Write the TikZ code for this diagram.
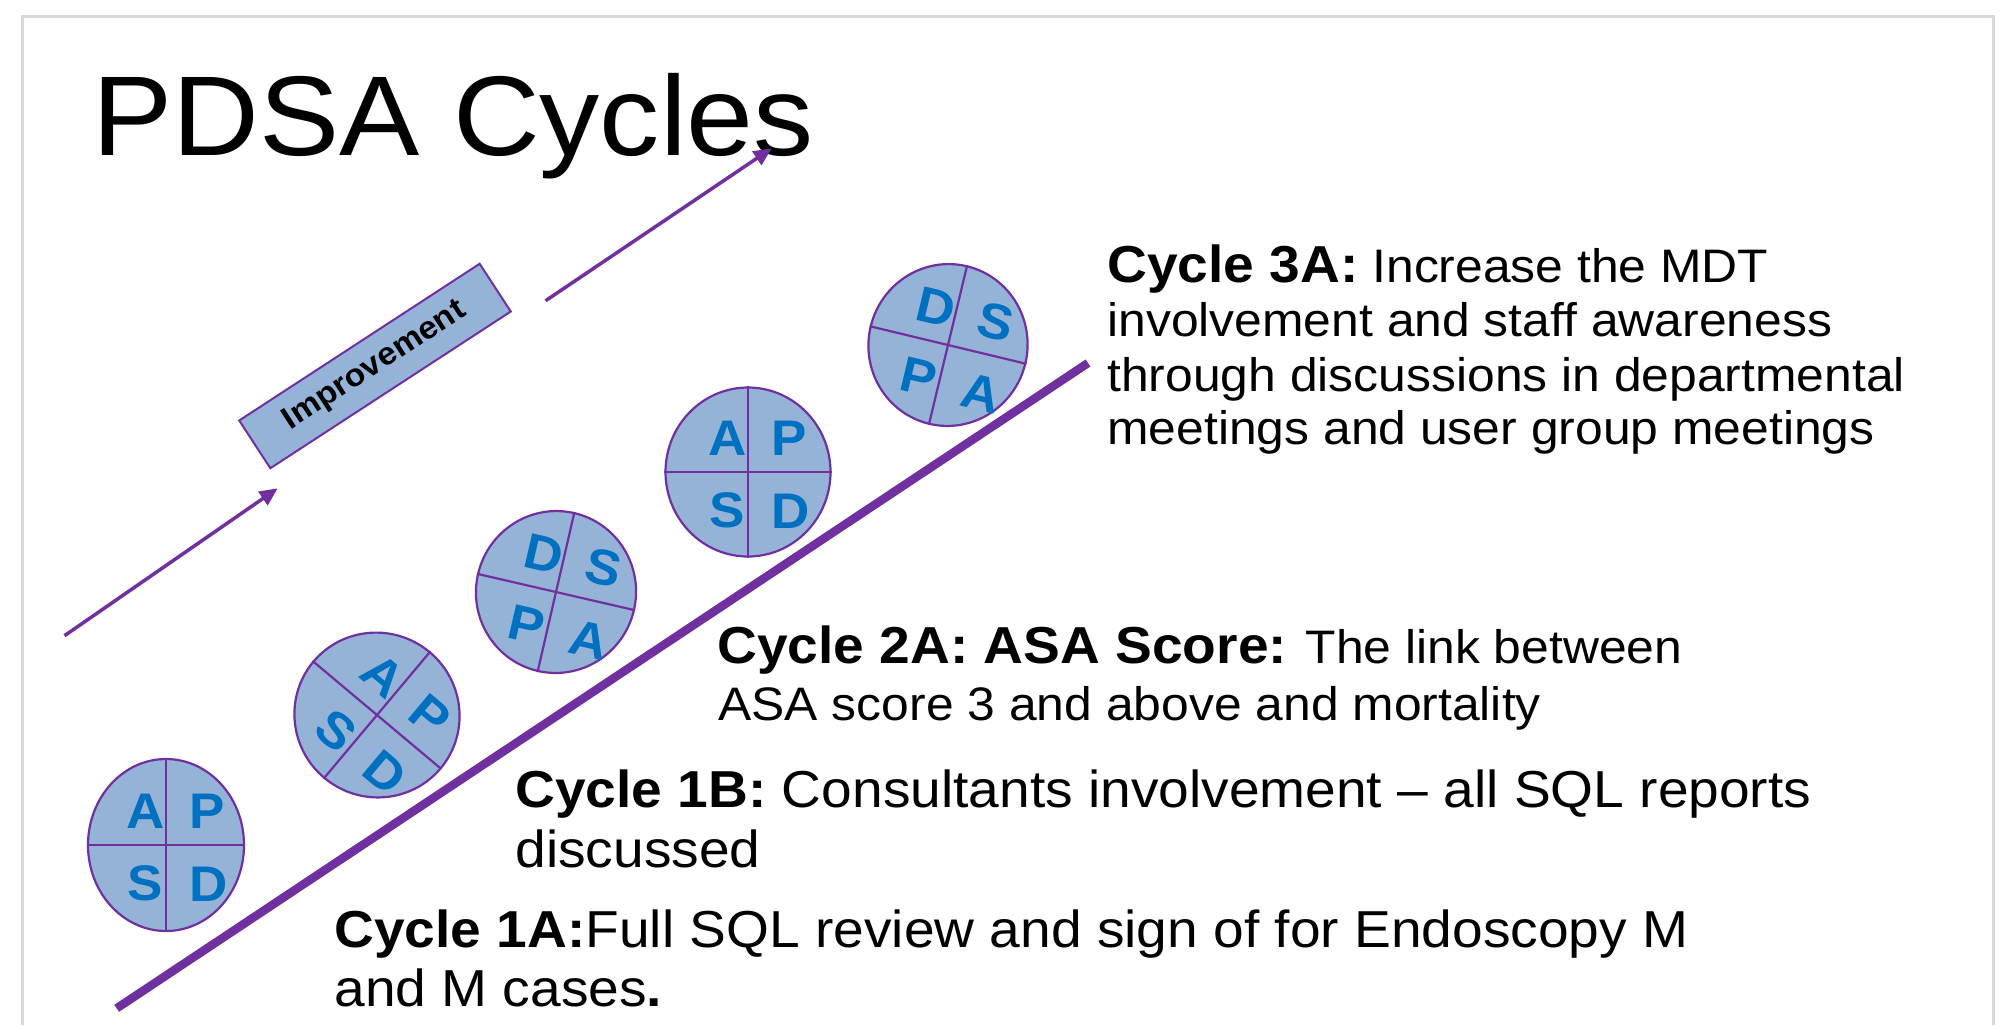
\documentclass[tikz,border=0pt]{standalone}
\usepackage{fontspec}
\setmainfont[FakeStretch=1.06]{Liberation Sans}
\usetikzlibrary{shapes.geometric,arrows.meta}
\definecolor{pur}{HTML}{7030A0}
\definecolor{wblue}{HTML}{95B3D7}
\definecolor{lblue}{HTML}{0070C0}
\definecolor{frm}{HTML}{D9D9D9}
\newcommand\bighead[1]{\textbf{\fontsize{26}{28}\selectfont #1}}
\tikzset{
  wheel/.style={ellipse, draw=pur, fill=wblue, line width=1.1pt, inner sep=0pt},
  divider/.style={draw=pur, line width=1.1pt},
  letter/.style={text=lblue, font=\bfseries\fontsize{25}{25}\selectfont, inner sep=0pt},
  txt/.style={anchor=base west, inner sep=0pt, text=black},
  thinarrow/.style={draw=pur, line width=1.75pt, -{Triangle[length=9pt,width=8pt]}},
  thickline/.style={draw=pur, line width=4.25pt},
  impbox/.style={draw=pur, fill=wblue, line width=1pt, inner sep=0pt,
    font=\bfseries\fontsize{15.85}{18}\selectfont},
}
\newcommand\pdsawheel[9]{%
  \begin{scope}[shift={(#2)}, rotate=#5]
    \node[wheel, minimum width=#3, minimum height=#4, rotate=#5] (#1) at (0,0) {};
    \draw[divider] (#1.north) -- (#1.south);
    \draw[divider] (#1.west) -- (#1.east);
    \node[letter, rotate=#5] (#1tl) at (-20,-34) {#6};
    \node[letter, rotate=#5] (#1tr) at (41,-34) {#7};
    \node[letter, rotate=#5] (#1bl) at (-21,38) {#8};
    \node[letter, rotate=#5] (#1br) at (43,39) {#9};
  \end{scope}}
\begin{document}
\begin{tikzpicture}[x=0.5pt,y=-0.5pt]
  \useasboundingbox (0,0) rectangle (2011,1025);
  \fill[white] (0,0) rectangle (2011,1025);
  % slide frame
  \draw[frm, line width=1.5pt] (22,1025) -- (22,16) -- (1993,16) -- (1993,1025);

  % title
  \node[txt, font=\fontsize{56.7}{60}\selectfont] (title) at (92,155.5) {PDSA Cycles};

  % improvement arrows and box
  \coordinate (a1s) at (64.5,635.7);
  \coordinate (a1e) at (277.7,488.3);
  \coordinate (a2s) at (545.6,300.7);
  \coordinate (a2e) at (771.7,148.3);
  \draw[thinarrow] (a1s) -- (a1e);
  \draw[thinarrow] (a2s) -- (a2e);
  \node[impbox, minimum width=143.5pt, minimum height=28.5pt, rotate=33.1] (imp) at (375,366) {Improvement};

  % main slope line
  \coordinate (l1) at (116.7,1008.3);
  \coordinate (l2) at (1088,363);
  \draw[thickline] (l1) -- (l2);

  % PDSA wheels
  \pdsawheel{w1}{166,845}{78pt}{86pt}{0}{A}{P}{S}{D}
  \pdsawheel{w2}{377,715}{83pt}{82pt}{-40}{A}{P}{S}{D}
  \pdsawheel{w3}{556,592}{80pt}{81pt}{-13}{D}{S}{P}{A}
  \pdsawheel{w4}{748,472}{82.5pt}{84.5pt}{0}{A}{P}{S}{D}
  \pdsawheel{w5}{948,345}{79.5pt}{81pt}{-13.5}{D}{S}{P}{A}

  % texts
  \begin{scope}[every node/.append style={font=\fontsize{23.5}{28}\selectfont}]
    \node[txt] (t3a1) at (1107,282) {\bighead{Cycle 3A:} Increase the MDT};
    \node[txt] (t3a2) at (1107,336.5) {involvement and staff awareness};
    \node[txt] (t3a3) at (1107,391) {through discussions in departmental};
    \node[txt] (t3a4) at (1107,444.5) {meetings and user group meetings};
    \node[txt] (t2a1) at (717,663.5) {\bighead{Cycle 2A: ASA Score:} The link between};
    \node[txt] (t2a2) at (718,720) {ASA score 3 and above and mortality};
  \end{scope}
  \begin{scope}[every node/.append style={font=\fontsize{26}{30}\selectfont}]
    \node[txt] (t1b1) at (515,807) {\textbf{Cycle 1B:} Consultants involvement – all SQL reports};
    \node[txt] (t1b2) at (515,867) {discussed};
    \node[txt] (t1a1) at (334,947) {\textbf{Cycle 1A:}Full SQL review and sign of for Endoscopy M};
    \node[txt] (t1a2) at (334,1006.5) {and M cases\textbf{.}};
  \end{scope}
\end{tikzpicture}
\end{document}
